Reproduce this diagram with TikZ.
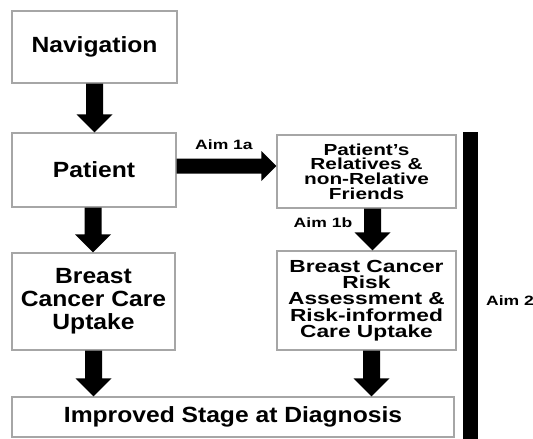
\documentclass[tikz,border=0pt]{standalone}
\usepackage{fontspec}
\setmainfont{Liberation Sans}
\newfontfamily\bigf[FakeStretch=1.12]{Liberation Sans}
\newfontfamily\widef[FakeStretch=1.3]{Liberation Sans}
\usetikzlibrary{calc}
\newcommand{\vblk}[3]{%
 \fill ($(#1.south)+(#3-8.5,0)$) -- ($(#1.south |- #2.north)+(#3-8.5,-18)$) -- ($(#1.south |- #2.north)+(#3-18,-18)$) -- ($(#1.south |- #2.north)+(#3,0)$) -- ($(#1.south |- #2.north)+(#3+18,-18)$) -- ($(#1.south |- #2.north)+(#3+8.5,-18)$) -- ($(#1.south)+(#3+8.5,0)$) -- cycle;}
\begin{document}
\begin{tikzpicture}[x=1pt,y=-1pt,
  box/.style={draw=gray!70,line width=1.2pt,fill=white,inner sep=0pt,align=center},
  bigtxt/.style={font=\bigf\bfseries\fontsize{22}{23}\selectfont},
  midtxt/.style={font=\widef\bfseries\fontsize{17.5}{16.3}\selectfont},
  smltxt/.style={font=\widef\bfseries\fontsize{16}{14.7}\selectfont},
  lab/.style={font=\widef\bfseries\fontsize{13.5}{15}\selectfont,inner sep=0pt}]
\useasboundingbox (0,0) rectangle (533,439);
\fill[white] (0,0) rectangle (533,439);
\node[box,bigtxt,minimum width=165pt,minimum height=72pt] (nav) at (94.5,47) {Navigation};
\node[box,bigtxt,minimum width=164pt,minimum height=74pt] (pat) at (94,170) {Patient};
\node[box,bigtxt,minimum width=163pt,minimum height=97pt] (care) at (93.5,301.5) {Breast\\Cancer Care\\Uptake};
\node[box,smltxt,minimum width=179pt,minimum height=73pt] (rel) at (366.5,171.5) {Patient’s\\Relatives \&\\non-Relative\\Friends};
\node[box,midtxt,minimum width=179pt,minimum height=99pt] (risk) at (366.5,300.5) {Breast Cancer\\Risk\\Assessment \&\\Risk-informed\\Care Uptake};
\node[box,bigtxt,minimum width=442pt,minimum height=40pt] (stage) at (233,417) {Improved Stage at Diagnosis};
\node[fill=black,inner sep=0pt,minimum width=15pt,minimum height=307pt] (bar) at (470.5,285.5) {};
\vblk{nav}{pat}{0}
\vblk{pat}{care}{-1}
\vblk{care}{stage}{0}
\vblk{rel}{risk}{6}
\vblk{risk}{stage}{5}
\fill ($(pat.east)+(0,-11.5)$) -- ($(rel.west)+(-15,-13)$) -- ($(rel.west)+(-15,-20.5)$) -- ($(rel.west)+(0,-5.5)$) -- ($(rel.west)+(-15,9.5)$) -- ($(rel.west)+(-15,2)$) -- ($(pat.east)+(0,3.5)$) -- cycle;
\node[lab] (a1a) at (224,145) {Aim 1a};
\node[lab] (a1b) at (323,223) {Aim 1b};
\node[lab] (a2) at (510,301) {Aim 2};
\end{tikzpicture}
\end{document}
